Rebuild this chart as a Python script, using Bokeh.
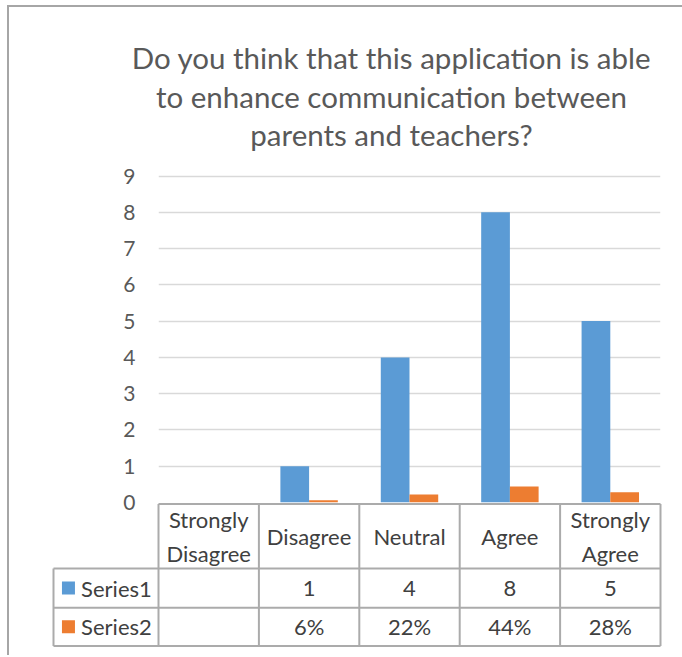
import math
from bokeh.plotting import figure
from bokeh.layouts import column
from bokeh.models import Range1d, FactorRange, FixedTicker, ColumnDataSource
from bokeh.transform import dodge
from bokeh.core.properties import value
from bokeh.embed import file_html
from bokeh.resources import INLINE

# ---------------- data ----------------
title_lines = ["Do you think that this application is able",
               "to enhance communication between",
               "parents and teachers?"]
categories = ["Strongly Disagree", "Disagree", "Neutral", "Agree", "Strongly Agree"]
category_labels = ["Strongly\nDisagree", "Disagree", "Neutral", "Agree", "Strongly\nAgree"]
series_names = ["Series1", "Series2"]
series1 = [None, 1, 4, 8, 5]
series2 = [None, 0.06, 0.22, 0.44, 0.28]
y_ticks = [0, 1, 2, 3, 4, 5, 6, 7, 8, 9]

# ---------------- styles ----------------
FONT = value("Lato")
BLUE = "#5B9BD5"
ORANGE = "#ED7D31"
TXT = "#595959"
TBL_TXT = "#404040"
TBL_LINE = "#ababab"
GRID = "#d9d9d9"
OVERLAP = 12
W = 673
PX_PER_UNIT = 36.2

n = len(categories)
nan = float("nan")
s1 = [nan if v is None else v for v in series1]
s2 = [nan if v is None else v for v in series2]


def no_align(p):
    try:
        p.frame_align = False
    except Exception:
        pass


# ---------------- title ----------------
H0 = 153
p0 = figure(width=W, height=H0, x_range=Range1d(0, 1), y_range=Range1d(start=H0, end=0),
            x_axis_location=None, y_axis_location=None, output_backend="svg",
            toolbar_location=None, min_border_left=91, min_border_right=0,
            min_border_top=0, min_border_bottom=0)
no_align(p0)
p0.outline_line_color = None
p0.grid.visible = False
line_gap = 38.5
p0.text(x=[0.5] * len(title_lines), y=[50 + line_gap * i for i in range(len(title_lines))],
        text=title_lines, text_align="center", text_baseline="middle",
        text_font=FONT, text_font_size="29.5px", text_color=TXT)

# ---------------- chart ----------------
p1 = figure(width=W, height=354, x_range=FactorRange(*categories),
            y_range=Range1d(y_ticks[0], y_ticks[-1] + 1.5 / PX_PER_UNIT),
            x_axis_location=None, output_backend="svg", toolbar_location=None,
            min_border_left=149, min_border_right=22, min_border_top=14,
            min_border_bottom=OVERLAP)
no_align(p1)
p1.outline_line_color = None

src = ColumnDataSource(dict(cat=categories, s1=s1, s2=s2))
bw = 0.286
p1.vbar(x=dodge("cat", -bw / 2, range=p1.x_range), top="s1", width=bw, bottom=0,
        source=src, fill_color=BLUE, line_color=None)
p1.vbar(x=dodge("cat", bw / 2, range=p1.x_range), top="s2", width=bw, bottom=0,
        source=src, fill_color=ORANGE, line_color=None)

p1.yaxis.ticker = FixedTicker(ticks=y_ticks)
p1.yaxis.axis_line_color = None
p1.yaxis.major_tick_line_color = None
p1.yaxis.minor_tick_line_color = None
p1.yaxis.major_label_text_font = "Lato"
p1.yaxis.major_label_text_font_size = "21px"
p1.yaxis.major_label_text_color = TXT
p1.yaxis.major_label_standoff = 17
p1.ygrid.ticker = FixedTicker(ticks=y_ticks)
p1.ygrid.grid_line_color = GRID
p1.ygrid.grid_line_width = 1.5
p1.xgrid.grid_line_color = None

# ---------------- data table ----------------
L = 105 / 100.4          # width of the label column, in category units
pad = 2 / 100.4
row_h = [64, 39, 38]
edges = [0]
for h in row_h:
    edges.append(edges[-1] + h)
total = edges[-1]

p2 = figure(width=W, height=153,
            x_range=Range1d(-L - pad, n + pad),
            y_range=Range1d(start=total + 2.5, end=-1.5),
            x_axis_location=None, y_axis_location=None,
            output_backend="svg", toolbar_location=None,
            min_border_left=42, min_border_right=20, min_border_top=0,
            min_border_bottom=7, styles={"margin-top": f"-{OVERLAP}px"})
no_align(p2)
p2.outline_line_color = None
p2.background_fill_color = None
p2.border_fill_color = None
p2.grid.visible = False

# table lines
x0, y0, x1, y1 = [], [], [], []
for i in range(n + 1):
    x0.append(i); x1.append(i); y0.append(edges[0]); y1.append(total)
x0.append(-L); x1.append(-L); y0.append(edges[1]); y1.append(total)
x0.append(0); x1.append(n); y0.append(edges[0]); y1.append(edges[0])
for e in edges[1:]:
    x0.append(-L); x1.append(n); y0.append(e); y1.append(e)
p2.segment(x0=x0, y0=y0, x1=x1, y1=y1, line_color=TBL_LINE, line_width=2)

# header
p2.text(x=[i + 0.5 for i in range(n)], y=[row_h[0] / 2] * n, text=category_labels,
        text_align="center", text_baseline="middle", text_font=FONT,
        text_font_size="22px", text_color=TBL_TXT, text_line_height=1.25)

# legend keys + names
row_c = [(edges[k] + edges[k + 1]) / 2 for k in (1, 2)]
p2.scatter(x=[-L + 0.149] * 2, y=row_c, marker="square", size=13,
           fill_color=[BLUE, ORANGE], line_color=None)
p2.text(x=[-L + 0.275] * 2, y=row_c, text=series_names, text_align="left",
        text_baseline="middle", text_font=FONT, text_font_size="22px",
        text_color=TBL_TXT)

# values
vals1 = ["" if v is None else str(v) for v in series1]
vals2 = ["" if v is None else f"{round(v * 100)}%" for v in series2]
p2.text(x=[i + 0.5 for i in range(n)] * 2, y=[row_c[0]] * n + [row_c[1]] * n,
        text=vals1 + vals2, text_align="center", text_baseline="middle",
        text_font=FONT, text_font_size="22px", text_color=TBL_TXT)

layout = column(p0, p1, p2, spacing=0,
                styles={"border-left": "2px solid #a6a6a6",
                        "border-top": "2px solid #a6a6a6",
                        "margin-left": "7px", "margin-top": "5px"})

open("out.html", "w").write(file_html(layout, INLINE))
